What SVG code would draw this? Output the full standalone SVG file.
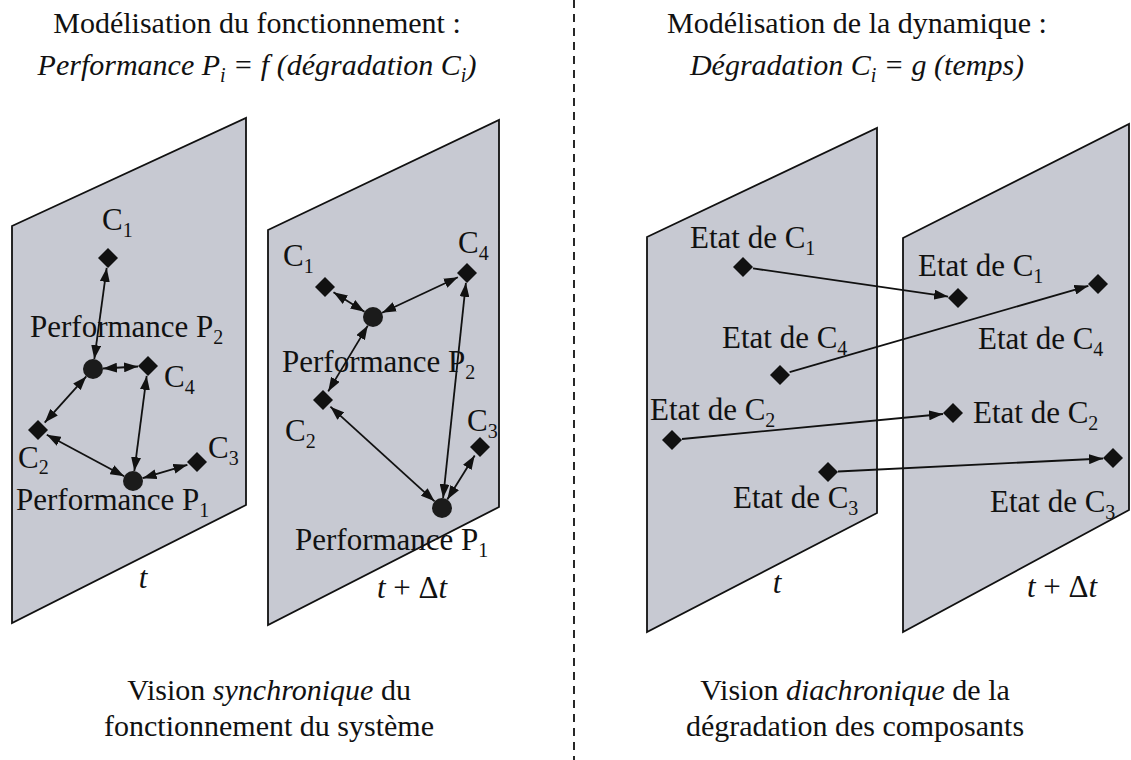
<svg xmlns="http://www.w3.org/2000/svg" xmlns:xlink="http://www.w3.org/1999/xlink" width="1131" height="760" viewBox="0 0 1131 760">
<style>
text{font-family:"Liberation Serif","Times New Roman",serif;fill:#111;}
.h{font-size:30px;text-anchor:middle;}
.lb{font-size:31px;}
.ft{font-size:30px;text-anchor:middle;}
.it{font-style:italic;}
.sub{font-size:20px;}
.panel{fill:#c7c9d2;stroke:#111;stroke-width:1.8;}
.edge{stroke:#111;stroke-width:1.8;fill:none;}
.dbl{marker-start:url(#ah);marker-end:url(#ah);}
.one{marker-end:url(#ah);}
.perf{fill:#1b1b1b;}
</style>
<defs>
<marker id="ah" viewBox="0 0 14 10" refX="14" refY="5" markerWidth="14" markerHeight="10" markerUnits="userSpaceOnUse" orient="auto-start-reverse"><path d="M0,0 L14,5 L0,10 z" fill="#111"/></marker>
<path id="dia" d="M0,-10 L10,0 L0,10 L-10,0 Z" fill="#111"/>
</defs>
<rect width="1131" height="760" fill="#ffffff"/>

<g id="headers">
<text class="h" x="257" y="33">Modélisation du fonctionnement :</text>
<text class="h it" x="257" y="75">Performance P<tspan class="sub" dy="7">i</tspan><tspan dy="-7"> = f (dégradation C</tspan><tspan class="sub" dy="7">i</tspan><tspan dy="-7">)</tspan></text>
<text class="h" x="857" y="33">Modélisation de la dynamique :</text>
<text class="h it" x="857" y="75">Dégradation C<tspan class="sub" dy="7">i</tspan><tspan dy="-7"> = g (temps)</tspan></text>
</g>

<line id="separator" x1="574" y1="0" x2="574" y2="760" stroke="#111" stroke-width="1.8" stroke-dasharray="8 6"/>

<g id="panel-sync-t">
<polygon class="panel" points="12,226 246,118 246,505 12,623"/>
<text class="lb it" x="143" y="588" text-anchor="middle">t</text>
</g>
<g id="panel-sync-tdt">
<polygon class="panel" points="268,230 499,120 499,507 268,625"/>
<text class="lb" x="412" y="598" text-anchor="middle"><tspan class="it">t</tspan> + Δ<tspan class="it">t</tspan></text>
</g>
<g id="panel-dia-t">
<polygon class="panel" points="647,237 877,128 877,513 647,632"/>
<text class="lb it" x="777" y="593" text-anchor="middle">t</text>
</g>
<g id="panel-dia-tdt">
<polygon class="panel" points="903,238 1129,124 1129,510 903,632"/>
<text class="lb" x="1062" y="597" text-anchor="middle"><tspan class="it">t</tspan> + Δ<tspan class="it">t</tspan></text>
</g>

<g id="connectors">
<line class="edge dbl" x1="106.7" y1="267.9" x2="94.3" y2="359.1"/>
<line class="edge dbl" x1="103" y1="368.5" x2="138" y2="366.5"/>
<line class="edge dbl" x1="146.7" y1="375.9" x2="134.3" y2="471.1"/>
<line class="edge dbl" x1="86.3" y1="376.4" x2="44.7" y2="422.6"/>
<line class="edge dbl" x1="46.8" y1="434.7" x2="124.2" y2="476.3"/>
<line class="edge dbl" x1="142.6" y1="478.2" x2="187.4" y2="464.8"/>

<line class="edge dbl" x1="333.5" y1="292.3" x2="364.5" y2="311.7"/>
<line class="edge dbl" x1="382.1" y1="312.8" x2="457.9" y2="277.2"/>
<line class="edge dbl" x1="367.8" y1="325.6" x2="328.2" y2="391.4"/>
<line class="edge dbl" x1="330.4" y1="406.7" x2="434.6" y2="501.3"/>
<line class="edge dbl" x1="465.9" y1="282.9" x2="443.1" y2="498.1"/>
<line class="edge dbl" x1="474.7" y1="455.5" x2="447.3" y2="499.5"/>

<line class="edge one" x1="753" y1="268.4" x2="948.1" y2="296.6"/>
<line class="edge one" x1="789.6" y1="372.2" x2="1088.4" y2="285.8"/>
<line class="edge one" x1="682" y1="439" x2="943" y2="414"/>
<line class="edge one" x1="838" y1="471.5" x2="1103" y2="458.5"/>
</g>

<g id="s1-C1"><use xlink:href="#dia" x="108" y="258"/><text class="lb" x="102" y="230">C<tspan class="sub" dy="7">1</tspan></text></g>
<g id="s1-P2"><circle class="perf" cx="93" cy="369" r="10"/><text class="lb" x="30" y="337">Performance P<tspan class="sub" dy="7">2</tspan></text></g>
<g id="s1-C4"><use xlink:href="#dia" x="148" y="366"/><text class="lb" x="164" y="387">C<tspan class="sub" dy="7">4</tspan></text></g>
<g id="s1-C2"><use xlink:href="#dia" x="38" y="430"/><text class="lb" x="18" y="468">C<tspan class="sub" dy="6">2</tspan></text></g>
<g id="s1-P1"><circle class="perf" cx="133" cy="481" r="10"/><text class="lb" x="16" y="510">Performance P<tspan class="sub" dy="7">1</tspan></text></g>
<g id="s1-C3"><use xlink:href="#dia" x="197" y="462"/><text class="lb" x="208" y="458">C<tspan class="sub" dy="7">3</tspan></text></g>

<g id="s2-C1"><use xlink:href="#dia" x="325" y="287"/><text class="lb" x="283" y="266">C<tspan class="sub" dy="7">1</tspan></text></g>
<g id="s2-P2"><circle class="perf" cx="373" cy="317" r="10"/><text class="lb" x="282" y="372">Performance P<tspan class="sub" dy="7">2</tspan></text></g>
<g id="s2-C4"><use xlink:href="#dia" x="467" y="273"/><text class="lb" x="458" y="253">C<tspan class="sub" dy="7">4</tspan></text></g>
<g id="s2-C2"><use xlink:href="#dia" x="323" y="400"/><text class="lb" x="285" y="441">C<tspan class="sub" dy="7">2</tspan></text></g>
<g id="s2-C3"><use xlink:href="#dia" x="480" y="447"/><text class="lb" x="467" y="431">C<tspan class="sub" dy="7">3</tspan></text></g>
<g id="s2-P1"><circle class="perf" cx="442" cy="508" r="10"/><text class="lb" x="295" y="550">Performance P<tspan class="sub" dy="7">1</tspan></text></g>

<g id="d1-C1"><use xlink:href="#dia" x="743" y="267"/><text class="lb" x="690" y="248">Etat de C<tspan class="sub" dy="7">1</tspan></text></g>
<g id="d1-C4"><use xlink:href="#dia" x="780" y="375"/><text class="lb" x="722" y="348">Etat de C<tspan class="sub" dy="7">4</tspan></text></g>
<g id="d1-C2"><use xlink:href="#dia" x="672" y="440"/><text class="lb" x="650" y="420">Etat de C<tspan class="sub" dy="7">2</tspan></text></g>
<g id="d1-C3"><use xlink:href="#dia" x="828" y="472"/><text class="lb" x="733" y="508">Etat de C<tspan class="sub" dy="7">3</tspan></text></g>

<g id="d2-C1"><use xlink:href="#dia" x="958" y="298"/><text class="lb" x="918" y="276">Etat de C<tspan class="sub" dy="7">1</tspan></text></g>
<g id="d2-C4"><use xlink:href="#dia" x="1098" y="284"/><text class="lb" x="978" y="349">Etat de C<tspan class="sub" dy="7">4</tspan></text></g>
<g id="d2-C2"><use xlink:href="#dia" x="953" y="413"/><text class="lb" x="973" y="423">Etat de C<tspan class="sub" dy="7">2</tspan></text></g>
<g id="d2-C3"><use xlink:href="#dia" x="1113" y="458"/><text class="lb" x="990" y="512">Etat de C<tspan class="sub" dy="7">3</tspan></text></g>

<g id="footers">
<text class="ft" x="269" y="700">Vision <tspan class="it">synchronique</tspan> du</text>
<text class="ft" x="269" y="736">fonctionnement du système</text>
<text class="ft" x="855" y="700">Vision <tspan class="it">diachronique</tspan> de la</text>
<text class="ft" x="855" y="736">dégradation des composants</text>
</g>
</svg>
